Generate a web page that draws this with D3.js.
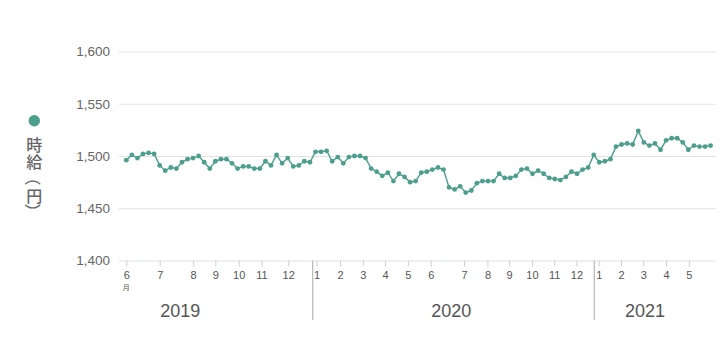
<!DOCTYPE html>
<html lang="ja">
<head>
<meta charset="utf-8">
<script src="https://cdn.jsdelivr.net/npm/d3@7/dist/d3.min.js"></script>
<style>
  html, body { margin: 0; padding: 0; background: #fff; }
  svg { display: block; }
  text { font-family: "Liberation Sans", Arial, "Noto Sans CJK JP", sans-serif; }
  text.jp { font-family: "Noto Sans CJK JP", sans-serif; }
</style>
</head>
<body>
<svg id="chart" width="720" height="337"></svg>
<script>
// Weekly average hourly wage (yen), June 2019 – May 2021
const wages = [
  1496, 1501, 1498, 1502, 1503, 1502, 1491, 1486, 1489, 1488,
  1494, 1497, 1498, 1500, 1494, 1488, 1495, 1497, 1497, 1493,
  1488, 1490, 1490, 1488, 1488, 1495, 1491, 1501, 1493, 1498,
  1490, 1491, 1495, 1494, 1504, 1504, 1505, 1495, 1499, 1493,
  1499, 1500, 1500, 1498, 1488, 1485, 1481, 1484, 1476, 1483,
  1480, 1475, 1476, 1484, 1485, 1487, 1489, 1487, 1470, 1468,
  1471, 1465, 1467, 1474, 1476, 1476, 1476, 1483, 1479, 1479,
  1481, 1487, 1488, 1483, 1486, 1483, 1479, 1478, 1477, 1480,
  1485, 1483, 1487, 1489, 1501, 1494, 1495, 1497, 1509, 1511,
  1512, 1511, 1524, 1513, 1510, 1512, 1506, 1515, 1517, 1517,
  1513, 1506, 1510, 1509, 1509, 1510
];

// Month labels and where each month begins on the week axis
const monthLabels = ["6","7","8","9","10","11","12",
                     "1","2","3","4","5","6","7","8","9","10","11","12",
                     "1","2","3","4","5"];
const monthPos = [0, 6, 12, 16, 20.2, 24.3, 29.1,
                  34.2, 38.4, 42.5, 46.5, 50.6, 54.7, 60.7, 64.9, 68.8, 72.9, 76.9, 80.9,
                  84.9, 88.9, 92.9, 97, 101.1];

// Year groups: label, and where the group label sits on the week axis
const years = ["2019", "2020", "2021"];
const yearCenters = [9.7, 58.4, 93.2];
const yearBreaks = [33.5, 84.1];

const yTicks = [1400, 1450, 1500, 1550, 1600];
const seriesName = "時給（円）";

const color = "#4c9f8d";
const svg = d3.select("#chart");

const plotLeft = 119, plotRight = 716, plotTop = 51.5, plotBottom = 260.5;

const x = d3.scaleLinear().domain([0, wages.length - 1]).range([126.3, 710.6]);
const y = d3.scaleLinear().domain([1400, 1600]).range([plotBottom, plotTop]);

// Y axis with gridlines
const yAxis = svg.append("g")
  .attr("transform", `translate(${plotLeft},0)`)
  .call(d3.axisLeft(y).tickValues(yTicks).tickSize(-(plotRight - plotLeft)).tickPadding(9)
    .tickFormat(d3.format(",")));
yAxis.select(".domain").remove();
yAxis.selectAll(".tick line").attr("stroke", "#e2e2e2").attr("stroke-width", 1);
yAxis.selectAll(".tick text")
  .attr("fill", "#666").attr("font-size", 13.5);

// X axis: months
const xAxis = svg.append("g")
  .attr("transform", `translate(0,${plotBottom})`)
  .call(d3.axisBottom(x).tickValues(monthPos).tickSize(6).tickPadding(5)
    .tickFormat((d, i) => monthLabels[i]));
xAxis.select(".domain").remove();
xAxis.selectAll(".tick line").attr("stroke", "#cfcfcf");
xAxis.selectAll(".tick text").attr("fill", "#555").attr("font-size", 11);

svg.append("text")
  .attr("class", "jp")
  .attr("x", x(monthPos[0])).attr("y", 290)
  .attr("text-anchor", "middle")
  .attr("font-size", 7).attr("fill", "#555")
  .text("月");

// Year dividers and labels
svg.append("g").selectAll("line").data(yearBreaks).join("line")
  .attr("x1", d => x(d)).attr("x2", d => x(d))
  .attr("y1", plotBottom).attr("y2", 320)
  .attr("stroke", "#b8b8b8").attr("stroke-width", 1.2);

svg.append("g").selectAll("text").data(years).join("text")
  .attr("x", (d, i) => x(yearCenters[i]))
  .attr("y", 317)
  .attr("text-anchor", "middle")
  .attr("font-size", 18).attr("fill", "#555")
  .text(d => d);

// Series line and points
const line = d3.line().x((d, i) => x(i)).y(d => y(d));
svg.append("path")
  .datum(wages)
  .attr("d", line)
  .attr("fill", "none")
  .attr("stroke", color)
  .attr("stroke-width", 1.4);

svg.append("g").selectAll("circle").data(wages).join("circle")
  .attr("cx", (d, i) => x(i))
  .attr("cy", d => y(d))
  .attr("r", 2.4)
  .attr("fill", color);

// Legend: marker and caption set vertically, one character per step;
// brackets are turned a quarter so they open downward as in vertical type
const legendX = 34.3, captionTop = 135, step = 17, fontSize = 16;
svg.append("circle")
  .attr("cx", legendX).attr("cy", 120.7).attr("r", 5.7)
  .attr("fill", color);
const isBracket = c => c === "（" || c === "）";
const charY = i => captionTop + step * (i + 0.5);
svg.append("g").attr("class", "caption")
  .selectAll("text").data(Array.from(seriesName)).join("text")
  .attr("class", "jp")
  .attr("x", legendX)
  .attr("y", (c, i) => charY(i))
  .attr("text-anchor", "middle")
  .attr("dominant-baseline", "central")
  .attr("font-size", fontSize)
  .attr("font-weight", 500)
  .attr("fill", "#666")
  .attr("transform", (c, i) => isBracket(c) ? `rotate(90,${legendX},${charY(i)})` : null)
  .text(c => c);
</script>
</body>
</html>
